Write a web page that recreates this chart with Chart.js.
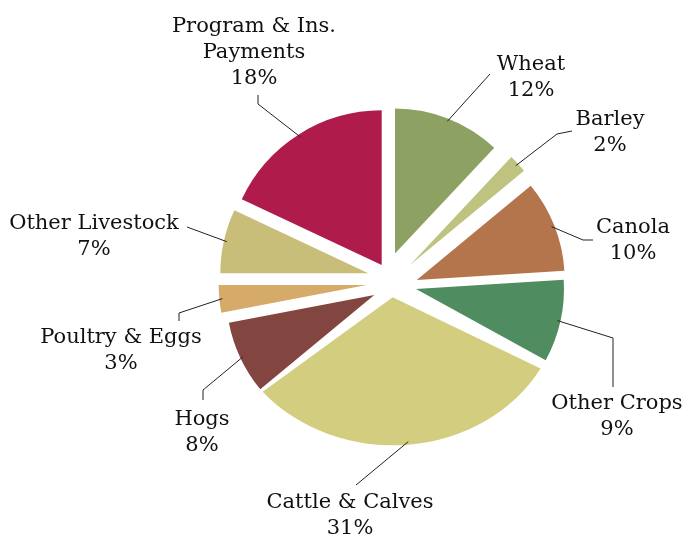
<!DOCTYPE html>
<html>
<head>
<meta charset="utf-8">
<script src="https://cdn.jsdelivr.net/npm/chart.js@4/dist/chart.umd.min.js"></script>
<style>
  html, body { margin: 0; padding: 0; background: #ffffff; }
  #c { display: block; }
</style>
</head>
<body>
<canvas id="c" width="685" height="537"></canvas>
<script>
// ---- data ----
const categories = [
  'Wheat', 'Barley', 'Canola', 'Other Crops', 'Cattle & Calves',
  'Hogs', 'Poultry & Eggs', 'Other Livestock', ['Program & Ins.', 'Payments']
];
const shares = [12, 2, 10, 9, 31, 8, 3, 7, 18];
const sliceColors = [
  '#8da262', '#bec47f', '#b4744c', '#4f8d60', '#d3cd80',
  '#834540', '#d6aa68', '#c8be7a', '#af1b4b'
];

// ---- layout / style (not data) ----
// how far each slice is pulled out of the pie (px, x/y)
const sliceShift = [
  [3, -23.5], [18, -12], [24.7, 3], [24, 12], [0.7, 20.3],
  [-17.7, 18], [-25.3, 8], [-23.7, -3.7], [-10.3, -12]
];
// per-slice drawing scale (x, y) about the slice tip
const sliceScale = [
  [0.98, 0.98], [1, 1], [1, 1], [1, 1], [1.14, 1],
  [1, 1], [1, 1], [1, 1], [1.045, 1.045]
];
const FONT = '21px "DejaVu Serif", "Liberation Serif", serif';
const LINE_H = 26;
const labelLayout = [
  { pts: [[490, 74]], x: 531, y: 70 },
  { pts: [[557, 134], [572, 131]], x: 610, y: 125 },
  { pts: [[583, 240], [593, 240]], x: 633, y: 233 },
  { pts: [[613, 338], [613, 387]], x: 617, y: 409 },
  { pts: [[356, 485]], x: 350, y: 508 },
  { pts: [[203, 390], [203, 400]], x: 202, y: 425 },
  { pts: [[179, 313], [179, 321]], x: 121, y: 343 },
  { pts: [[187, 227]], x: 94, y: 229 },
  { pts: [[258, 104], [258, 95]], x: 254, y: 32 }
];

const explodePlugin = {
  id: 'explode',
  beforeDatasetDraw(chart, args) {
    const ctx = chart.ctx;
    args.meta.data.forEach((arc, i) => {
      ctx.save();
      ctx.translate(arc.x + sliceShift[i][0], arc.y + sliceShift[i][1]);
      ctx.scale(sliceScale[i][0], sliceScale[i][1]);
      ctx.translate(-arc.x, -arc.y);
      arc.draw(ctx);
      ctx.restore();
    });
    return false;
  }
};

const labelPlugin = {
  id: 'leaderLabels',
  afterDraw(chart) {
    const ctx = chart.ctx;
    const meta = chart.getDatasetMeta(0);
    const labels = chart.data.labels;
    const values = chart.data.datasets[0].data;
    meta.data.forEach((arc, i) => {
      const a = (arc.startAngle + arc.endAngle) / 2;
      const d = arc.outerRadius - 3;
      const px = arc.x + sliceShift[i][0] + Math.cos(a) * d * sliceScale[i][0];
      const py = arc.y + sliceShift[i][1] + Math.sin(a) * d * sliceScale[i][1];
      const lay = labelLayout[i];
      ctx.save();
      ctx.strokeStyle = '#222222';
      ctx.lineWidth = 1;
      ctx.beginPath();
      ctx.moveTo(px, py);
      lay.pts.forEach(p => ctx.lineTo(p[0], p[1]));
      ctx.stroke();
      const lines = [].concat(labels[i], [values[i] + '%']);
      ctx.fillStyle = '#111111';
      ctx.font = FONT;
      ctx.textAlign = 'center';
      ctx.textBaseline = 'alphabetic';
      lines.forEach((t, k) => ctx.fillText(t, lay.x, lay.y + k * LINE_H));
      ctx.restore();
    });
  }
};

new Chart(document.getElementById('c'), {
  type: 'pie',
  data: {
    labels: categories,
    datasets: [{
      data: shares,
      backgroundColor: sliceColors,
      borderWidth: 0,
      offset: 0
    }]
  },
  options: {
    responsive: false,
    animation: false,
    devicePixelRatio: 1,
    radius: 148,
    layout: { padding: { left: 99, top: 17, right: 0, bottom: 0 } },
    plugins: {
      legend: { display: false },
      tooltip: { enabled: false }
    },
    events: []
  },
  plugins: [explodePlugin, labelPlugin]
});
</script>
</body>
</html>
